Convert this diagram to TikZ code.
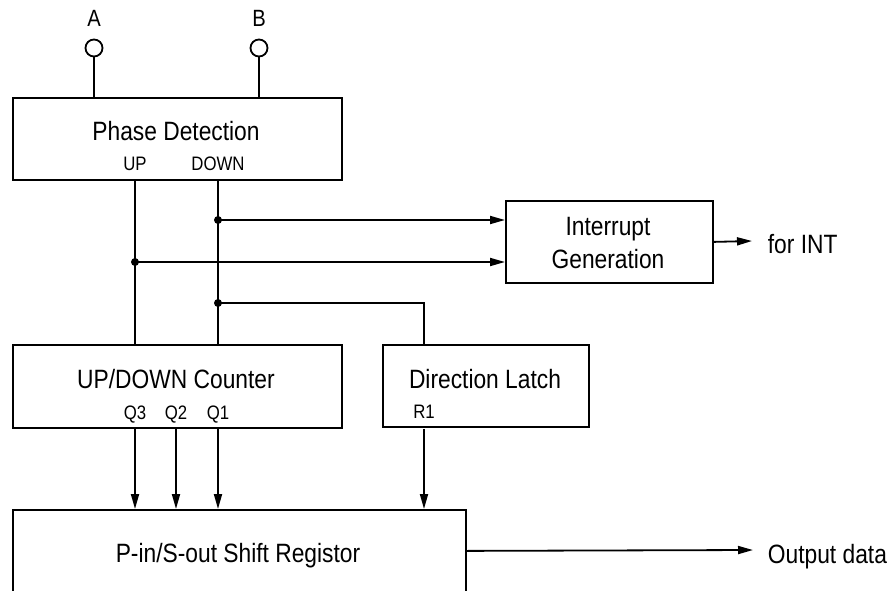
\documentclass[tikz,border=0pt]{standalone}
\usepackage{fontspec}
\setmainfont[FakeStretch=0.86]{Liberation Sans}
\usetikzlibrary{arrows.meta}

\begin{document}
\begin{tikzpicture}[x=1pt,y=-1pt,line width=1.8pt]
\tikzstyle{every node}+=[inner sep=0pt]
\tikzstyle{blockbox}=[draw,rectangle,anchor=north west]
\tikzstyle{bigtxt}=[anchor=base,font=\fontsize{26.5}{33}\selectfont]
\tikzstyle{pintxt}=[anchor=base,font=\fontsize{19.5}{22}\selectfont]
\tikzstyle{terminal}=[draw,circle,minimum size=17]
\tikzstyle{arr}=[-{Triangle[length=15pt,width=8pt]}]
\useasboundingbox (0,0) rectangle (889,591);
% blocks
\node[blockbox,minimum width=329,minimum height=82] (phase) at (12,97) {};
\node[blockbox,minimum width=207,minimum height=82] (intgen) at (505,200) {};
\node[blockbox,minimum width=329,minimum height=83] (counter) at (12,344) {};
\node[blockbox,minimum width=206,minimum height=82] (latch) at (382,344) {};
\node[blockbox,minimum width=453,minimum height=82] (shift) at (12,509) {};
% texts
\node[bigtxt] (phasetxt) at (176,141) {Phase Detection};
\node[pintxt] (up) at (135,171) {UP};
\node[pintxt] (down) at (218,171) {DOWN};
\node[bigtxt,align=center] (inttxt) at (608,268) {Interrupt\\Generation};
\node[bigtxt] (countertxt) at (176,388) {UP/DOWN Counter};
\node[pintxt] (q3) at (135,419) {Q3};
\node[pintxt] (q2) at (176,419) {Q2};
\node[pintxt] (q1) at (218,419) {Q1};
\node[bigtxt] (latchtxt) at (485,388) {Direction Latch};
\node[pintxt] (r1) at (424,418) {R1};
\node[bigtxt] (shifttxt) at (238,562) {P-in/S-out Shift Registor};
\node[bigtxt,anchor=base west] (forint) at (767,253) {for INT};
\node[bigtxt,anchor=base west] (outdata) at (767,563) {Output data};
% inputs
\node[terminal] (ina) at (94,48) {};
\node[terminal] (inb) at (259,48) {};
\node[anchor=base,font=\fontsize{23.5}{26}\selectfont] at (94,27) {A};
\node[anchor=base,font=\fontsize{23.5}{26}\selectfont] at (259,27) {B};
\draw (ina) -- (ina |- phase.north);
\draw (inb) -- (inb |- phase.north);
% UP and DOWN
\coordinate (dndot1) at (218,220);
\coordinate (updot) at (135,262);
\coordinate (dndot2) at (218,303);
\draw (up |- phase.south) -- (up |- counter.north);
\draw (down |- phase.south) -- (down |- counter.north);
\draw[arr] (dndot1) -- (dndot1 -| intgen.west);
\draw[arr] (updot) -- (updot -| intgen.west);
\draw (dndot2) -| (r1 |- latch.north);
\foreach \d in {dndot1,updot,dndot2}
  \fill (\d) circle (4);
% outputs
\coordinate (intend) at (752,241);
\coordinate (outend) at (753,550);
\draw[arr] (intgen.east) -- (intend);
\draw[arr] (shift.east) -- (outend);
\foreach \q in {q3,q2,q1,r1}
  \draw[arr] (\q |- counter.south) -- (\q |- shift.north);
\end{tikzpicture}
\end{document}
